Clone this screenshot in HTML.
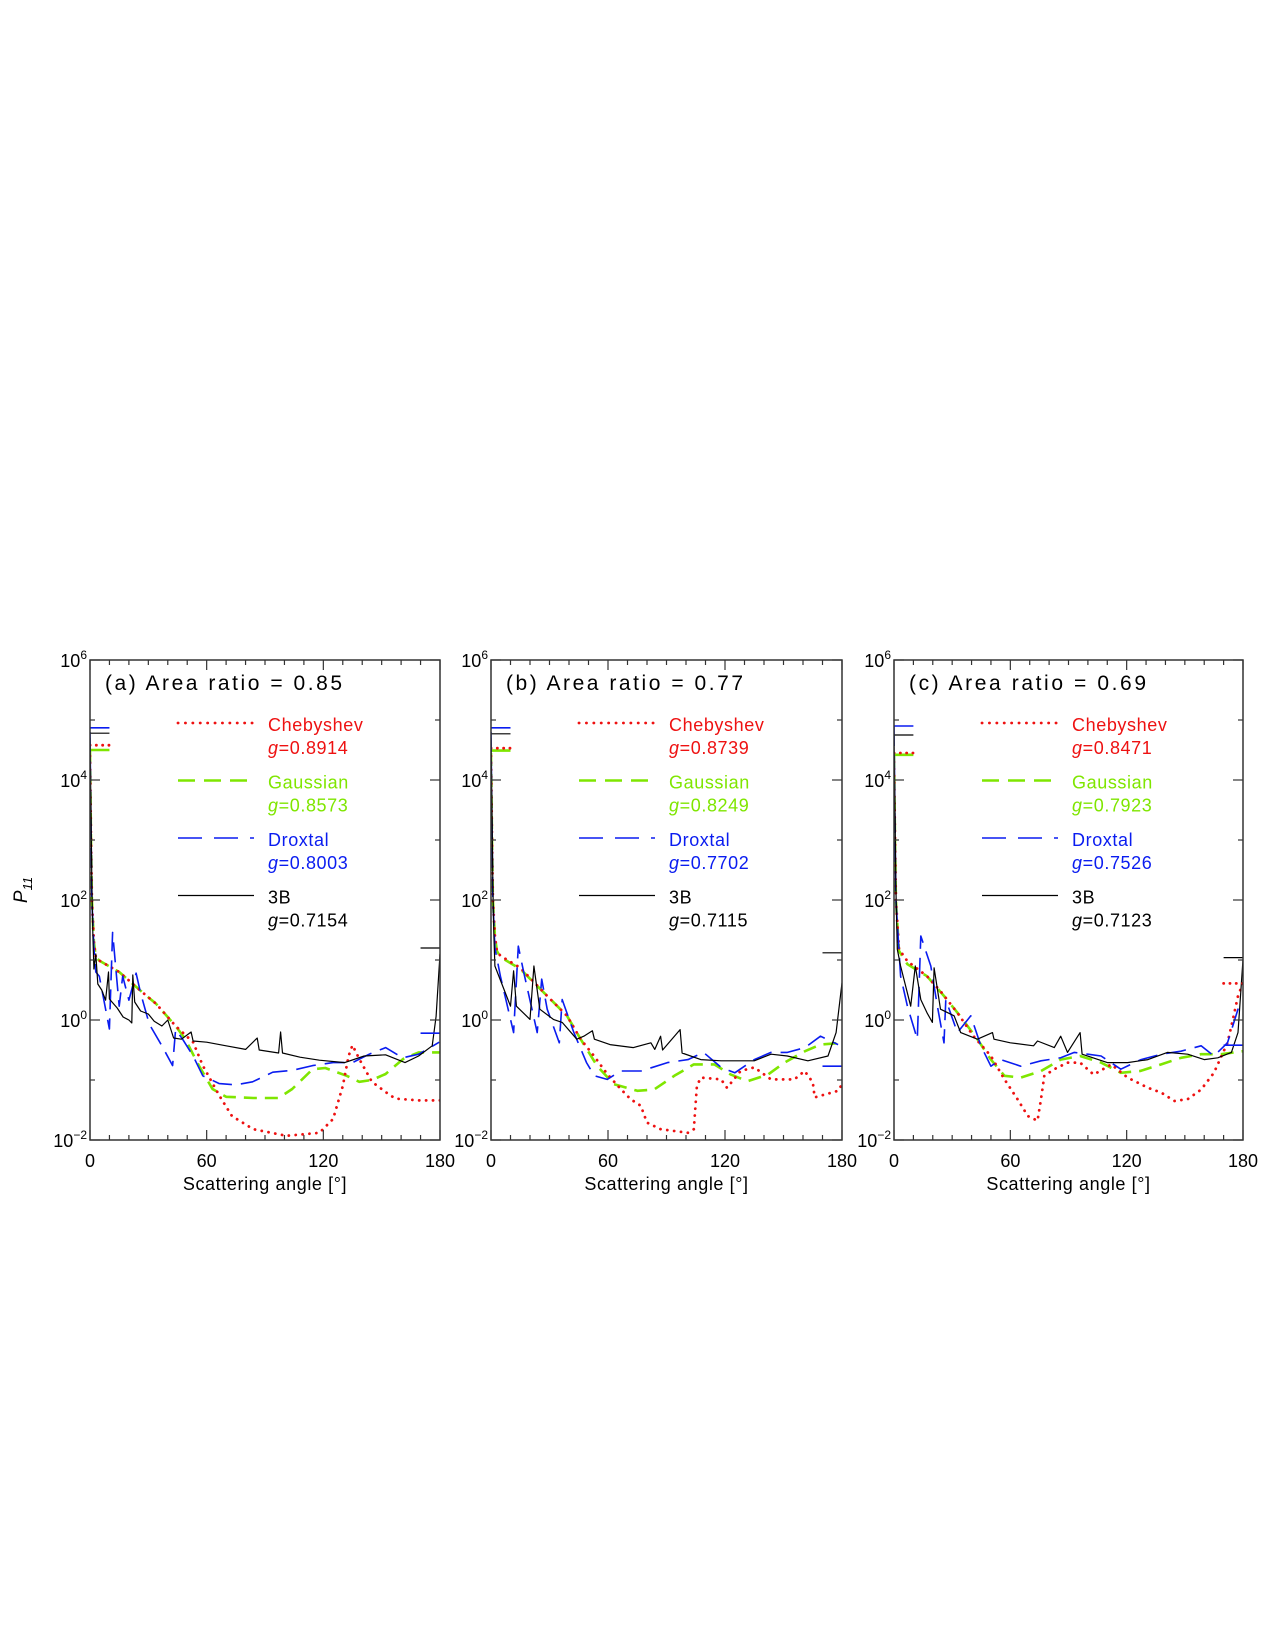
<!DOCTYPE html>
<html><head><meta charset="utf-8"><title>P11 phase functions</title>
<style>
html,body{margin:0;padding:0;background:#fff;}
svg{display:block;font-family:"Liberation Sans",sans-serif;}
</style></head>
<body>
<svg id="fig" width="1275" height="1651" viewBox="0 0 1275 1651" xmlns="http://www.w3.org/2000/svg">
<defs>
<clipPath id="clipA"><rect x="90" y="660" width="350" height="480"/></clipPath>
<clipPath id="clipB"><rect x="491" y="660" width="351" height="480"/></clipPath>
<clipPath id="clipC"><rect x="894" y="660" width="349" height="480"/></clipPath>
</defs>
<text transform="translate(27,890) rotate(-90)" font-size="19" font-style="italic" text-anchor="middle">P<tspan font-size="13" dy="5">11</tspan></text>
</svg>
<script>
// ---------- data (log10 P11 vs scattering angle) ----------
const yTickExps = [-2, 0, 2, 4, 6];
const xTickLabels = [0, 60, 120, 180];
const panelTitles = ["(a) Area ratio = 0.85", "(b) Area ratio = 0.77", "(c) Area ratio = 0.69"];
const seriesNames = ["Chebyshev", "Gaussian", "Droxtal", "3B"];
const gValuesA = ["0.8914", "0.8573", "0.8003", "0.7154"];
const gValuesB = ["0.8739", "0.8249", "0.7702", "0.7115"];
const gValuesC = ["0.8471", "0.7923", "0.7526", "0.7123"];

// forward-peak plateau levels (0-10 deg): cheb, gauss, droxtal, 3B
const fwdA = [4.58, 4.5, 4.87, 4.78];
const fwdB = [4.53, 4.49, 4.87, 4.77];
const fwdC = [4.45, 4.42, 4.9, 4.75];
// backward levels (170-180 deg)
const bwdBlackA = 1.2, bwdBlueA = -0.22;
const bwdBlackB = 1.12, bwdBlueB = -0.77;
const bwdBlackC = 1.04, bwdBlueC = -0.42, bwdRedC = 0.61;

// Panel A
const redAngA = [0,0.5,1,2,3,4.8,15,27,34,44,53,58,66.5,73,84,101,118,125,130,133,135,138.5,145,152,157,169,180];
const redValA = [4.4,3,2,1.3,1.05,0.99,0.8,0.46,0.27,-0.1,-0.37,-0.76,-1.26,-1.6,-1.82,-1.93,-1.88,-1.65,-1.1,-0.6,-0.42,-0.65,-1.03,-1.2,-1.31,-1.34,-1.34];
const grnAngA = [0,0.5,1,2,3,4.8,15,27,34,44,49,56,63,70,84,97,104,114.5,121,132,138.5,145,152,161,169,180];
const grnValA = [4.5,3,2,1.3,1.05,0.99,0.8,0.46,0.27,-0.1,-0.32,-0.76,-1.15,-1.28,-1.3,-1.3,-1.15,-0.82,-0.8,-0.93,-1.03,-1.0,-0.9,-0.65,-0.54,-0.54];
const bluAngA = [0,0.5,1,2,3,4.8,10,11.6,15,16.8,20,23.7,26,30.5,37,42.5,44,47.6,53,58,66.5,75,83.6,94,104,114.5,125,135,143.6,152,160.8,169,179.6];
const bluValA = [4.8,3.2,2,1.2,0.8,0.73,-0.15,1.46,0.23,0.73,0.33,0.78,0.45,-0.07,-0.43,-0.76,-0.16,-0.32,-0.6,-0.93,-1.06,-1.08,-1.03,-0.87,-0.84,-0.76,-0.71,-0.71,-0.57,-0.46,-0.63,-0.57,-0.37];
const blkAngA = [0,0.5,1,1.5,2,3,4,6,8,9.5,10,14,17,20,21.5,22,23,26,30,33,37,40,43,47,52,53,60,70,80,86,87,97,98,99,108,118,131,141,152,162,169,176,178,180];
const blkValA = [4.7,3.5,2.2,1.4,0.85,1.1,0.6,0.5,0.33,0.8,0.35,0.2,0.05,0,-0.05,0.75,0.3,0.15,0.1,-0.02,-0.1,0,-0.3,-0.32,-0.2,-0.35,-0.37,-0.43,-0.49,-0.3,-0.5,-0.55,-0.2,-0.55,-0.62,-0.67,-0.71,-0.6,-0.58,-0.71,-0.6,-0.43,0.06,1.1];

// Panel B
const redAngB = [0,0.5,1,2,3,4.8,15,28.8,39,46,52.8,59.6,66.5,71.6,76.8,80,87,101,104,105.6,107.6,118,121,128,135,143.6,155.6,160.8,165,166,178,180];
const redValB = [4.4,3,2,1.4,1.15,1.07,0.87,0.4,0.07,-0.32,-0.6,-0.9,-1.15,-1.32,-1.43,-1.71,-1.82,-1.88,-1.82,-1.1,-0.96,-0.99,-1.13,-0.85,-0.79,-0.99,-0.99,-0.85,-1.04,-1.29,-1.18,-1.07];
const grnAngB = [0,0.5,1,2,3,4.8,15,28.8,39,46,54.5,63,75,83.6,94,104,114.5,123,131.6,142,150.5,161,169,180];
const grnValB = [4.45,3,2,1.4,1.15,1.05,0.85,0.4,0.07,-0.32,-0.77,-1.07,-1.18,-1.16,-0.93,-0.74,-0.74,-0.91,-1.02,-0.91,-0.71,-0.52,-0.41,-0.38];
const bluAngB = [0,0.5,1,2,4.8,11.6,14,16.8,23.7,26,28.8,35,36.5,42.5,49,53,59.6,66.5,77,90.5,101,109,118,125,135,143.6,152,161,169,178];
const bluValB = [4.8,3.2,2,1.2,0.73,-0.21,1.23,0.79,-0.21,0.68,0.18,-0.38,0.34,-0.21,-0.71,-0.93,-0.99,-0.85,-0.85,-0.71,-0.66,-0.54,-0.79,-0.88,-0.66,-0.54,-0.54,-0.46,-0.27,-0.41];
const blkAngB = [0,0.5,1,1.5,2,10,11.6,13,20,22,25,32,36.5,44,47.6,52,53,61,73,82,84,87,88,97,98,107.6,118,135,143.6,152,162.5,172.8,177,180];
const blkValB = [4.7,3.5,2.2,1.4,0.9,0.23,0.82,0.23,0.01,0.9,0.18,0.01,-0.04,-0.32,-0.27,-0.18,-0.32,-0.41,-0.46,-0.38,-0.49,-0.27,-0.5,-0.16,-0.55,-0.66,-0.68,-0.68,-0.57,-0.6,-0.68,-0.6,-0.21,0.62];

// Panel C
const redAngC = [0,0.5,1,2.6,6.9,17,24,32.7,41,50,57,63.7,69,74,75.8,77.5,82.7,89.5,96,103,112,120.5,131,137.8,144.6,151.5,158.4,165,172,174.8,177.4,180];
const redValC = [4.3,3,2,1.18,0.98,0.73,0.48,0.12,-0.27,-0.6,-0.99,-1.32,-1.6,-1.68,-1.32,-0.93,-0.82,-0.71,-0.71,-0.91,-0.74,-0.96,-1.13,-1.21,-1.35,-1.32,-1.16,-0.88,-0.38,0.01,0.4,0.62];
const grnAngC = [0,0.5,1,2.6,6.9,17,25.8,34,43,50,57,65.4,75.8,86,96,106.8,117,127,137.8,148,158.4,168.8,180];
const grnValC = [4.42,3,2,1.15,0.93,0.73,0.4,0.07,-0.32,-0.66,-0.93,-0.96,-0.85,-0.66,-0.6,-0.71,-0.88,-0.85,-0.74,-0.63,-0.57,-0.57,-0.52];
const bluAngC = [0,0.5,1,3.4,6.9,12,13.8,19,22.4,25.8,26.7,32.7,39.6,44.8,50,55,65.4,75.8,86,93,100,106.8,117,127.4,137.8,148,158.4,165,172,177.4,179];
const bluValC = [4.9,3.2,2,0.73,0.23,-0.32,1.4,0.9,0.23,-0.38,0.34,-0.21,0.07,-0.43,-0.77,-0.66,-0.77,-0.68,-0.63,-0.54,-0.57,-0.6,-0.82,-0.66,-0.57,-0.52,-0.43,-0.6,-0.38,0.18,0.29];
const blkAngC = [0,0.5,1,1.7,3.4,8.6,11,13.8,17,19.8,20.7,24,31,34.4,43,50.8,51.6,60,72,74,82.7,86,89.5,96,97,110,120.5,131,141,151.5,160,167,174,177.4,180];
const blkValC = [4.75,3.5,2.2,1.18,0.9,0.23,0.9,0.34,0.12,-0.04,0.87,0.18,0.07,-0.21,-0.32,-0.21,-0.32,-0.38,-0.43,-0.35,-0.46,-0.27,-0.54,-0.21,-0.57,-0.71,-0.71,-0.66,-0.54,-0.57,-0.66,-0.63,-0.54,-0.21,1.01];

// ---------- drawing ----------
const NS = "http://www.w3.org/2000/svg";
const svg = document.getElementById("fig");
const TOP = 660, BOT = 1140, YMIN = -2, YMAX = 6;
function yScale(v){ return BOT - (v - YMIN) / (YMAX - YMIN) * (BOT - TOP); }
function mk(tag, attrs, parent){
  const e = document.createElementNS(NS, tag);
  for (const k in attrs) e.setAttribute(k, attrs[k]);
  (parent || svg).appendChild(e);
  return e;
}
const COLORS = {red:"#ee1111", green:"#7fe600", blue:"#0a1cf0", black:"#000"};
const STYLES = {
  red:{w:2.8, dash:"0.1 6.8", cap:"round"},
  green:{w:2.6, dash:"13 8", cap:"butt"},
  blue:{w:1.6, dash:"20 9", cap:"butt"},
  black:{w:1.2, dash:"", cap:"butt"}
};
function styleLine(el, key){
  el.setAttribute("stroke", COLORS[key]);
  el.setAttribute("stroke-width", STYLES[key].w);
  el.setAttribute("fill", "none");
  el.setAttribute("stroke-linecap", STYLES[key].cap);
  el.setAttribute("stroke-linejoin", "round");
  if (STYLES[key].dash) el.setAttribute("stroke-dasharray", STYLES[key].dash);
}

function drawPanel(p){
  const x0 = p.x0, x1 = p.x1;
  const xScale = a => x0 + a / 180 * (x1 - x0);
  const g = mk("g", {});
  
  

  const sg = mk("g", {"clip-path":"url(#" + p.clip + ")"}, g);
  
  
  const series = [
    {key:"green", ang:p.grnAng, val:p.grnVal, fwd:p.fwd[1], name:"gaussian"},
    {key:"red", ang:p.redAng, val:p.redVal, fwd:p.fwd[0], name:"chebyshev"},
    {key:"blue", ang:p.bluAng, val:p.bluVal, fwd:p.fwd[2], name:"droxtal"},
    {key:"black", ang:p.blkAng, val:p.blkVal, fwd:p.fwd[3], name:"3b"}
  ];
  series.forEach(s => {
    const pts = s.ang.map((a, i) => xScale(a).toFixed(1) + "," + yScale(s.val[i]).toFixed(1)).join(" ");
    const pl = mk("polyline", {points: pts}, sg);
    
    
    styleLine(pl, s.key);
    const fl = mk("line", {x1: xScale(0), x2: xScale(10), y1: yScale(s.fwd), y2: yScale(s.fwd)}, sg);
    
    
    styleLine(fl, s.key);
    fl.setAttribute("stroke-dasharray", s.key === "red" ? "0.1 6.2" : "none");
  });
  p.bwd.forEach(b => {
    const bl = mk("line", {x1: xScale(170), x2: xScale(180), y1: yScale(b.v), y2: yScale(b.v)}, sg);
    
    
    styleLine(bl, b.key);
    bl.setAttribute("stroke-dasharray", b.key === "red" ? "0.1 6.2" : "none");
  });

  const fr = mk("rect", {x:x0, y:TOP, width:x1-x0, height:BOT-TOP, fill:"none", stroke:"#333", "stroke-width":1.5}, g);
  
  

  for (let a = 0; a <= 180; a += 10){
    const len = (a % 60 === 0) ? 10 : 5;
    const xx = xScale(a);
    const t1 = mk("line", {x1:xx, x2:xx, y1:BOT, y2:BOT-len, stroke:"#333", "stroke-width":1.2}, g);
    
    
    const t2 = mk("line", {x1:xx, x2:xx, y1:TOP, y2:TOP+len, stroke:"#333", "stroke-width":1.2}, g);
    
    
  }
  xTickLabels.forEach(v => {
    const t = mk("text", {x: xScale(v), y: 1167, "font-size":18, "text-anchor":"middle"}, g);
    
    
    t.textContent = v;
  });
  const xt = mk("text", {x:(x0+x1)/2, y:1190, "font-size":18, "text-anchor":"middle", "letter-spacing":"0.6"}, g);
  
  
  xt.textContent = "Scattering angle [°]";

  for (let e = YMIN; e <= YMAX; e++){
    const len = (e % 2 === 0) ? 10 : 5;
    const yy = yScale(e);
    const t1 = mk("line", {x1:x0, x2:x0+len, y1:yy, y2:yy, stroke:"#333", "stroke-width":1.2}, g);
    
    
    const t2 = mk("line", {x1:x1, x2:x1-len, y1:yy, y2:yy, stroke:"#333", "stroke-width":1.2}, g);
    
    
  }
  yTickExps.forEach(e => {
    const t = mk("text", {x: x0 - 3, y: yScale(e) + 7, "font-size":18, "text-anchor":"end"}, g);
    
    
    const b = document.createElementNS(NS, "tspan");
    b.textContent = "10";
    t.appendChild(b);
    const s = document.createElementNS(NS, "tspan");
    s.setAttribute("font-size", "12");
    s.setAttribute("dy", "-8");
    s.textContent = (e < 0 ? "\u2212" : "") + Math.abs(e);
    t.appendChild(s);
  });

  const tt = mk("text", {x: x0 + 15, y: 690, "font-size":21, textLength:237, lengthAdjust:"spacing"}, g);
  
  
  tt.textContent = p.title;

  const lg = mk("g", {}, g);
  
  
  const legKeys = ["red", "green", "blue", "black"];
  const legTextCol = ["#ee1111", "#7fe600", "#0a1cf0", "#000"];
  legKeys.forEach((k, i) => {
    const ly = 723 + i * 57.5;
    const ll = mk("line", {x1: x0 + 88, x2: x0 + 164, y1: ly, y2: ly}, lg);
    
    
    styleLine(ll, k);
    if (k === "red") ll.setAttribute("stroke-dasharray", "0.1 7.3");
    if (k === "green") ll.setAttribute("stroke-dasharray", "17 9");
    if (k === "blue") ll.setAttribute("stroke-dasharray", "24 12");
    const nt = mk("text", {x: x0 + 178, y: ly + 8, "font-size":18, fill: legTextCol[i], "letter-spacing":"0.6"}, lg);
    
    
    nt.textContent = seriesNames[i];
    const gt = mk("text", {x: x0 + 178, y: ly + 31, "font-size":18, fill: legTextCol[i], "letter-spacing":"0.6"}, lg);
    
    
    const gi = document.createElementNS(NS, "tspan");
    gi.setAttribute("font-style", "italic");
    gi.textContent = "g";
    gt.appendChild(gi);
    const gv = document.createElementNS(NS, "tspan");
    gv.textContent = "=" + p.g[i];
    gt.appendChild(gv);
  });
}

drawPanel({id:"panel-a", x0:90, x1:440, clip:"clipA", title:panelTitles[0], g:gValuesA, fwd:fwdA,
  bwd:[{key:"black", v:bwdBlackA}, {key:"blue", v:bwdBlueA}],
  redAng:redAngA, redVal:redValA, grnAng:grnAngA, grnVal:grnValA, bluAng:bluAngA, bluVal:bluValA, blkAng:blkAngA, blkVal:blkValA});
drawPanel({id:"panel-b", x0:491, x1:842, clip:"clipB", title:panelTitles[1], g:gValuesB, fwd:fwdB,
  bwd:[{key:"black", v:bwdBlackB}, {key:"blue", v:bwdBlueB}],
  redAng:redAngB, redVal:redValB, grnAng:grnAngB, grnVal:grnValB, bluAng:bluAngB, bluVal:bluValB, blkAng:blkAngB, blkVal:blkValB});
drawPanel({id:"panel-c", x0:894, x1:1243, clip:"clipC", title:panelTitles[2], g:gValuesC, fwd:fwdC,
  bwd:[{key:"black", v:bwdBlackC}, {key:"blue", v:bwdBlueC}, {key:"red", v:bwdRedC}],
  redAng:redAngC, redVal:redValC, grnAng:grnAngC, grnVal:grnValC, bluAng:bluAngC, bluVal:bluValC, blkAng:blkAngC, blkVal:blkValC});
</script>
</body></html>
